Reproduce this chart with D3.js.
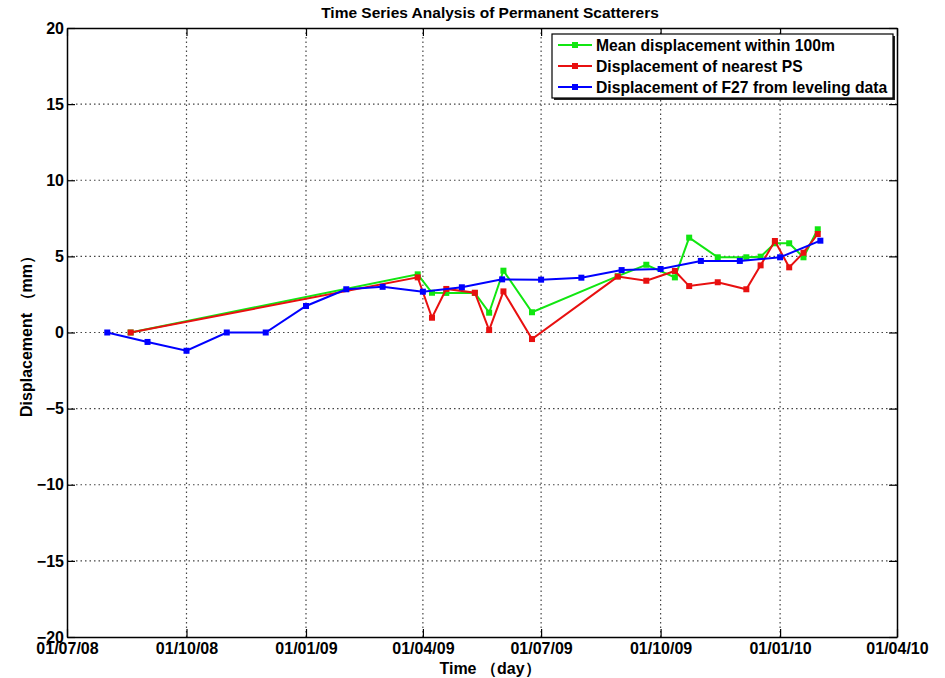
<!DOCTYPE html>
<html>
<head>
    <meta charset="utf-8">
    <title>Time Series Analysis of Permanent Scatterers</title>
    <script src="https://cdnjs.cloudflare.com/ajax/libs/d3/7.8.5/d3.min.js"></script>
</head>
<body style="margin:0;background:#fff">
<style>
    text { font-family: Arial, "Liberation Sans", sans-serif; font-weight: bold; fill: #000; }
</style>
<script>
    // dates of the leveling campaigns (monthly) and PS acquisitions
    const levelDates = ["2008-08-01", "2008-09-01", "2008-10-01", "2008-11-01", "2008-12-01",
        "2009-01-01", "2009-02-01", "2009-03-01", "2009-04-01", "2009-05-01", "2009-06-01",
        "2009-07-01", "2009-08-01", "2009-09-01", "2009-10-01", "2009-11-01", "2009-12-01",
        "2010-01-01", "2010-02-01"];
    const levelValues = [0, -0.62, -1.2, 0, 0, 1.74, 2.84, 3.0, 2.68, 2.97, 3.49,
        3.47, 3.6, 4.1, 4.17, 4.7, 4.7, 4.94, 6.03];

    const psDates = ["2008-08-19", "2009-03-28", "2009-04-08", "2009-04-19", "2009-05-11",
        "2009-05-22", "2009-06-02", "2009-06-24", "2009-08-29", "2009-09-20", "2009-10-12",
        "2009-10-23", "2009-11-14", "2009-12-06", "2009-12-17", "2009-12-28", "2010-01-08",
        "2010-01-19", "2010-01-30"];
    const meanValues = [0, 3.82, 2.61, 2.6, 2.6, 1.3, 4.06, 1.33, 3.7, 4.45, 3.62,
        6.23, 4.94, 4.94, 4.98, 5.86, 5.86, 4.94, 6.78];
    const nearestValues = [0, 3.62, 0.97, 2.86, 2.61, 0.16, 2.7, -0.43, 3.67, 3.4, 4.04,
        3.05, 3.3, 2.84, 4.41, 6.01, 4.28, 5.24, 6.47];

    const xTicks = ["2008-07-01", "2008-10-01", "2009-01-01", "2009-04-01", "2009-07-01",
        "2009-10-01", "2010-01-01", "2010-04-01"];
    const yTicks = [-20, -15, -10, -5, 0, 5, 10, 15, 20];

    const seriesNames = ["Mean displacement within 100m", "Displacement of nearest PS",
        "Displacement of F27 from leveling data"];
    const seriesColors = ["#11e611", "#e81010", "#0000ff"];

    const parse = d3.utcParse("%Y-%m-%d");
    const series = [
        psDates.map((d, i) => ({date: parse(d), v: meanValues[i]})),
        psDates.map((d, i) => ({date: parse(d), v: nearestValues[i]})),
        levelDates.map((d, i) => ({date: parse(d), v: levelValues[i]}))
    ];

    const W = 945, H = 678;
    const m = {left: 67, top: 28, right: 48, bottom: 41};
    const w = W - m.left - m.right, h = H - m.top - m.bottom;

    const svg = d3.select("body").append("svg").attr("width", W).attr("height", H);
    const g = svg.append("g").attr("transform", `translate(${m.left},${m.top})`);

    const x = d3.scaleUtc().domain([parse(xTicks[0]), parse(xTicks[xTicks.length - 1])]).range([0, w]);
    const y = d3.scaleLinear().domain([-20, 20]).range([h, 0]);

    // dotted grid
    g.append("g").selectAll("line").data(xTicks.slice(1, -1)).enter().append("line")
        .attr("x1", d => x(parse(d))).attr("x2", d => x(parse(d)))
        .attr("y1", 0).attr("y2", h)
        .attr("stroke", "#444").attr("stroke-width", 1.2).attr("stroke-dasharray", "1.5,3");
    g.append("g").selectAll("line").data(yTicks.slice(1, -1)).enter().append("line")
        .attr("x1", 0).attr("x2", w)
        .attr("y1", d => y(d)).attr("y2", d => y(d))
        .attr("stroke", "#444").attr("stroke-width", 1.2).attr("stroke-dasharray", "1.5,3");

    // axes, ticks pointing inwards like matlab
    const fmt = d3.utcFormat("%d/%m/%y");
    const xb = g.append("g").attr("transform", `translate(0,${h})`)
        .call(d3.axisBottom(x).tickValues(xTicks.map(parse)).tickFormat(fmt).tickSizeInner(-8).tickSizeOuter(0).tickPadding(7));
    const xt = g.append("g")
        .call(d3.axisTop(x).tickValues(xTicks.map(parse)).tickFormat("").tickSizeInner(-8).tickSizeOuter(0));
    const yl = g.append("g")
        .call(d3.axisLeft(y).tickValues(yTicks).tickSizeInner(-8).tickSizeOuter(0).tickPadding(3));
    const yr = g.append("g").attr("transform", `translate(${w},0)`)
        .call(d3.axisRight(y).tickValues(yTicks).tickFormat("").tickSizeInner(-8).tickSizeOuter(0));
    [xb, xt, yl, yr].forEach(a => {
        a.select(".domain").attr("stroke", "#000").attr("stroke-width", 1.5);
        a.selectAll(".tick line").attr("stroke", "#000").attr("stroke-width", 1.2);
        a.selectAll("text").attr("font-size", 16).attr("font-family", null).attr("fill", "#000");
    });
    xb.selectAll("text").attr("dy", "0.62em");

    // lines with square markers
    const line = d3.line().x(d => x(d.date)).y(d => y(d.v));
    series.forEach((s, i) => {
        g.append("path").datum(s).attr("d", line)
            .attr("fill", "none").attr("stroke", seriesColors[i]).attr("stroke-width", 2);
        g.append("g").selectAll("rect").data(s).enter().append("rect")
            .attr("x", d => x(d.date) - 3).attr("y", d => y(d.v) - 3)
            .attr("width", 6).attr("height", 6).attr("fill", seriesColors[i]);
    });

    // legend
    const lg = svg.append("g").attr("transform", "translate(552,34)");
    lg.append("rect").attr("x", 2).attr("y", 2).attr("width", 341).attr("height", 64).attr("fill", "#222");
    lg.append("rect").attr("width", 341).attr("height", 64)
        .attr("fill", "#fff").attr("stroke", "#000").attr("stroke-width", 1.2);
    seriesNames.forEach((name, i) => {
        const ly = 11 + i * 21;
        lg.append("line").attr("x1", 6).attr("x2", 40).attr("y1", ly).attr("y2", ly)
            .attr("stroke", seriesColors[i]).attr("stroke-width", 2);
        lg.append("rect").attr("x", 20).attr("y", ly - 3).attr("width", 6).attr("height", 6)
            .attr("fill", seriesColors[i]);
        lg.append("text").attr("x", 44).attr("y", ly).attr("dy", "0.36em")
            .attr("font-size", 15.7).text(name);
    });

    // titles
    svg.append("text").attr("x", 490).attr("y", 18).attr("text-anchor", "middle")
        .attr("font-size", 15.5).text("Time Series Analysis of Permanent Scatterers");
    svg.append("text").attr("x", 490).attr("y", 674).attr("text-anchor", "middle")
        .attr("font-size", 16).text("Time （day）");
    svg.append("text").attr("transform", `translate(26,${m.top + h / 2}) rotate(-90)`)
        .attr("text-anchor", "middle").attr("dy", "0.35em")
        .attr("font-size", 16).text("Displacement （mm）");
</script>
</body>
</html>
